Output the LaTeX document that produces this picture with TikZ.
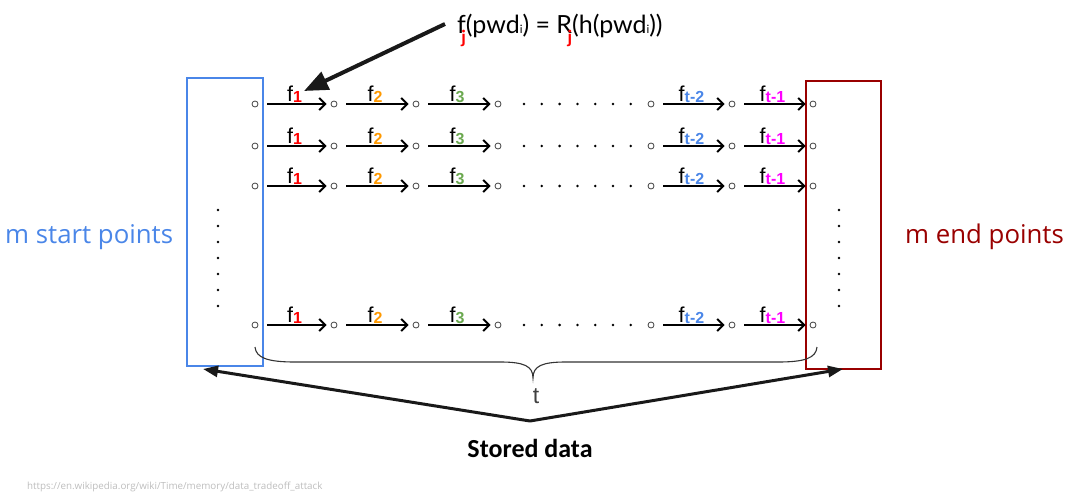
\documentclass[tikz,border=0pt]{standalone}
\usepackage{fontspec}
\setmainfont{Carlito}
\newfontfamily\osans{Open Sans}
\newfontfamily\lsans{Liberation Sans}
\newfontfamily\latof{Lato}
\usetikzlibrary{arrows.meta}
\definecolor{startblue}{HTML}{4A86E8}
\definecolor{endred}{HTML}{990000}
\definecolor{cone}{HTML}{FF0000}
\definecolor{ctwo}{HTML}{FF9900}
\definecolor{cthree}{HTML}{6AA84F}
\definecolor{ctmtwo}{HTML}{4A86E8}
\definecolor{ctmone}{HTML}{FF00FF}
\definecolor{urlgray}{HTML}{BDBDBD}
\newcommand{\fsub}[2]{f{\bfseries\fontsize{16}{16}\selectfont\raisebox{-1.5pt}{\color{#1}#2}}}
\newcommand{\jsub}{\llap{\raisebox{-10pt}{\color{cone}\bfseries\fontsize{18}{18}\selectfont j}}}
\newcommand{\smi}{{\fontsize{11.5}{11.5}\selectfont i}}
\begin{document}
\begin{tikzpicture}[x=1pt,y=-1pt,
  ptnode/.style={circle, draw=black!75, line width=0.8pt, minimum size=6pt, inner sep=0pt},
  chainarrow/.style={-{Straight Barb[length=6pt,width=12pt,line width=2pt]}, line width=2pt, shorten <=9pt, shorten >=4pt},
  flab/.style={anchor=base, yshift=3pt, inner sep=0pt, font=\lsans\fontsize{21.5}{21.5}\selectfont},
  bigarrow/.style={-{Triangle[length=15pt,width=11pt]}, line width=3pt, black!90},
  brace/.style={draw=black!80, line width=1.1pt},
  dotmark/.style={fill=black}]
\useasboundingbox (0,0) rectangle (1088,498);

% boxes
\node[draw=startblue, line width=2.5pt, minimum width=76pt, minimum height=288pt, inner sep=0pt] (startbox) at (225,222) {};
\node[draw=endred, line width=2.5pt, minimum width=75pt, minimum height=288pt, inner sep=0pt] (endbox) at (843.5,225) {};

% rows
\foreach \r/\y in {a/104, b/146, c/186, d/325}{
  \foreach \i/\x in {0/255,1/334,2/416,3/498,4/651,5/732,6/813}{
    \node[ptnode] (\r\i) at (\x,\y) {};
  }
  \draw[chainarrow] (\r0) -- node[flab]{\fsub{cone}{1}} (\r1);
  \draw[chainarrow] (\r1) -- node[flab]{\fsub{ctwo}{2}} (\r2);
  \draw[chainarrow] (\r2) -- node[flab]{\fsub{cthree}{3}} (\r3);
  \draw[chainarrow] (\r4) -- node[flab]{\fsub{ctmtwo}{t-2}} (\r5);
  \draw[chainarrow] (\r5) -- node[flab]{\fsub{ctmone}{t-1}} (\r6);
  \foreach \k in {0,...,6}{
    \fill[dotmark] ({524+\k*17.8},\y) circle (1.4pt);
  }
}

% vertical dots
\foreach \k in {0,...,6}{
  \fill[dotmark] (218,{210+16*\k}) circle (1.4pt);
  \fill[dotmark] (839,{210+16*\k}) circle (1.4pt);
}

% brace
\draw[brace] (255,347) .. controls (256,358) and (268,362) .. (295,362) -- (500,362)
  .. controls (524,362) and (533,366) .. (533,378)
  .. controls (533,366) and (542,362) .. (566,362) -- (778,362)
  .. controls (805,362) and (816,358) .. (817,347);
\node[font=\lsans\fontsize{23}{23}\selectfont, text=black!75, inner sep=0pt] (tlabel) at (536,396) {t};

% labels
\node[anchor=base west, inner sep=0pt, text=startblue, font=\osans\fontsize{25.8}{25.8}\selectfont] (startlab) at (5,243) {m start points};
\node[anchor=base west, inner sep=0pt, text=endred, font=\osans\fontsize{25.8}{25.8}\selectfont] (endlab) at (905,243) {m end points};

% formula
\node[anchor=base west, inner sep=0pt, font=\latof\fontsize{25}{25}\selectfont] (formula) at (457,33)
  {f\jsub(pwd\smi) = R\jsub(h(pwd\smi))};
\coordinate (fstart) at (445,24);
\coordinate (ftip) at (304,91);
\draw[-{Triangle[length=24pt,width=19pt]}, line width=4pt, black!90] (fstart) -- (ftip);

% stored data
\node[anchor=center, inner sep=0pt, font=\bfseries\fontsize{26}{26}\selectfont] (stored) at (530,448) {Stored data};
\coordinate (apex) at (530,421);
\coordinate (starttip) at (203,369);
\coordinate (endtip) at (843,369);
\draw[bigarrow] (apex) -- (starttip);
\draw[bigarrow] (apex) -- (endtip);

% url
\node[anchor=base west, inner sep=0pt, text=urlgray, font=\osans\fontsize{9.8}{9.8}\selectfont] (url) at (27,489) {https://en.wikipedia.org/wiki/Time/memory/data\_tradeoff\_attack};
\end{tikzpicture}
\end{document}
